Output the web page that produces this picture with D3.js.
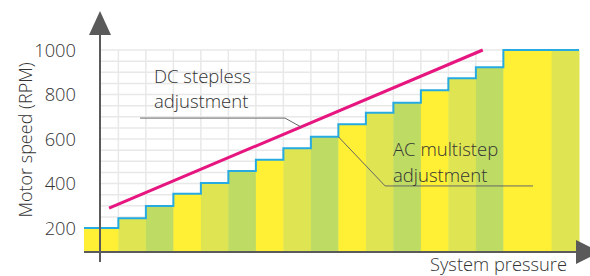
<!DOCTYPE html>
<meta charset="utf-8">
<style>
  body { margin: 0; background: #fff; }
  text { font-family: "Open Sans", "Noto Sans", sans-serif; font-weight: 300; fill: #333; }
</style>
<body>
<svg width="590" height="276"></svg>
</body>
<script src="https://cdn.jsdelivr.net/npm/d3@7/dist/d3.min.js"></script>
<script>

// step edges along the pressure axis and the speed of each step
var stepEdges = [0, 1.25, 2.25, 3.25, 4.25, 5.25, 6.25, 7.25, 8.25, 9.25, 10.25, 11.25, 12.25, 13.25, 14.25, 15.25, 17, 18];
var stepRPM = [200, 244, 299, 354, 402, 456, 507, 558, 610, 666, 718, 763, 819, 873, 922, 1000, 1000];
var bandColors = ["#fff035", "#dfe552", "#bedb64"];

// DC stepless line (pressure, rpm)
var dcPressure = [0.91, 14.5];
var dcRPM = [289, 1000];

var yTicks = [200, 400, 600, 800, 1000];

var svg = d3.select("svg");

var x = d3.scaleLinear().domain([0, 18]).range([84, 579]);
var y = d3.scaleLinear().domain([200, 1000]).range([228, 50]);
var axisY = 252, axisX = 100;
var rpmBase = y.invert(axisY - 1);

// grid
var grid = svg.append("g").attr("stroke", "#e8e8e8").attr("stroke-width", 1.5);
grid.selectAll(".h")
    .data(d3.range(1000, rpmBase, -50))
  .enter().append("line")
    .attr("x1", axisX).attr("x2", x(18))
    .attr("y1", d => y(d)).attr("y2", d => y(d));
grid.selectAll(".v")
    .data(d3.range(1.25, 18.01, 1))
  .enter().append("line")
    .attr("x1", d => x(d)).attr("x2", d => x(d))
    .attr("y1", y(1000)).attr("y2", axisY);

// bars
var bands = stepRPM.map((v, i) => ({ x0: stepEdges[i], x1: stepEdges[i + 1], v: v, i: i }));
svg.append("g").selectAll("rect")
    .data(bands)
  .enter().append("rect")
    .attr("x", d => x(d.x0))
    .attr("width", d => x(d.x1) - x(d.x0) + 0.5)
    .attr("y", d => y(d.v))
    .attr("height", d => y(rpmBase) - y(d.v))
    .attr("fill", d => bandColors[d.i % 3]);

// AC step outline
var stepPts = stepRPM.map((v, i) => [stepEdges[i], v]);
stepPts.push([18, 1000]);
svg.append("path")
    .datum(stepPts)
    .attr("fill", "none")
    .attr("stroke", "#27aae1")
    .attr("stroke-width", 2)
    .attr("d", d3.line().x(d => x(d[0])).y(d => y(d[1])).curve(d3.curveStepAfter));

// DC line
svg.append("line")
    .attr("x1", x(dcPressure[0])).attr("y1", y(dcRPM[0]))
    .attr("x2", x(dcPressure[1])).attr("y2", y(dcRPM[1]))
    .attr("stroke", "#e6157f")
    .attr("stroke-width", 3);

// leaders
var leader = d3.line().x(d => x(d[0])).y(d => y(d[1]));
svg.append("path")
    .datum([[2.04, 694], [7.31, 694], [7.89, 654]])
    .attr("d", leader).attr("fill", "none").attr("stroke", "#666").attr("stroke-width", 1);
svg.append("path")
    .datum([[9.25, 610], [10.95, 389], [16.33, 389]])
    .attr("d", leader).attr("fill", "none").attr("stroke", "#666").attr("stroke-width", 1);

// annotations
var ann = svg.append("g").attr("font-size", 18.5);
ann.append("text").attr("x", 154).attr("y", 83).text("DC stepless");
ann.append("text").attr("x", 154).attr("y", 108).text("adjustment");
ann.append("text").attr("x", 393).attr("y", 156).text("AC multistep");
ann.append("text").attr("x", 393).attr("y", 182).text("adjustment");

// axes
svg.append("line")
    .attr("x1", x(0)).attr("x2", 577)
    .attr("y1", axisY).attr("y2", axisY)
    .attr("stroke", "#5a5a5a").attr("stroke-width", 2);
svg.append("path")
    .attr("d", `M576,${axisY - 12}L600,${axisY}L576,${axisY + 12}Z`)
    .attr("fill", "#5a5a5a");
svg.append("line")
    .attr("x1", axisX).attr("x2", axisX)
    .attr("y1", 34).attr("y2", 262)
    .attr("stroke", "#5a5a5a").attr("stroke-width", 2);
svg.append("path")
    .attr("d", `M${axisX},11L${axisX + 11},35L${axisX - 11},35Z`)
    .attr("fill", "#5a5a5a");

// y tick labels
svg.append("g").attr("font-size", 18.3).attr("text-anchor", "end")
  .selectAll("text")
    .data(yTicks)
  .enter().append("text")
    .attr("x", 76)
    .attr("y", d => y(d))
    .attr("dy", "0.36em")
    .text(d => d);

// axis titles
svg.append("text")
    .attr("font-size", 18)
    .attr("text-anchor", "middle")
    .attr("transform", "translate(32,140) rotate(-90)")
    .text("Motor speed (RPM)");
svg.append("text")
    .attr("font-size", 18.3)
    .attr("x", 430).attr("y", 271)
    .text("System pressure");

</script>
